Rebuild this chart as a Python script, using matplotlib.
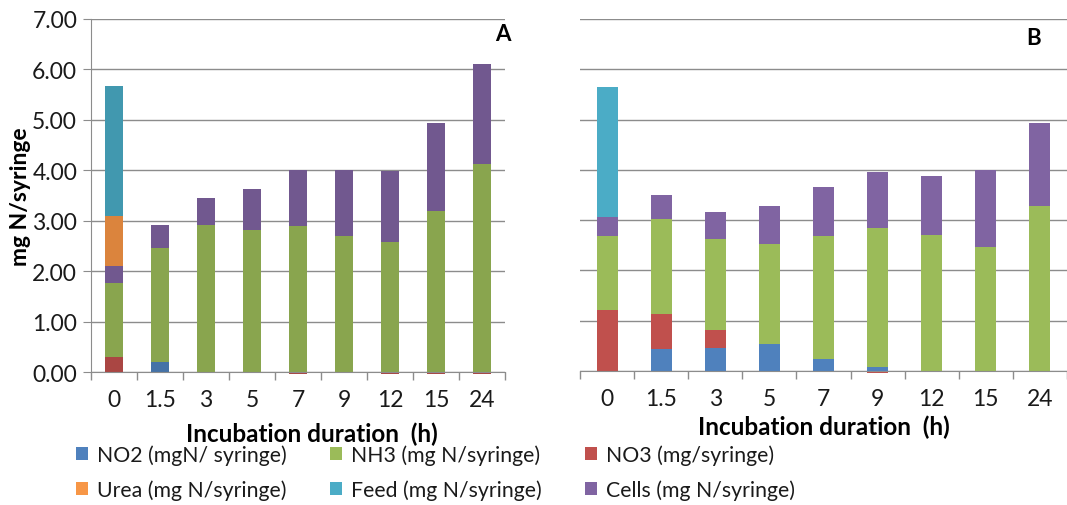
import numpy as np
import matplotlib
matplotlib.use("Agg")
import matplotlib.pyplot as plt
from matplotlib.patches import Patch

plt.rcParams['font.family'] = ['Lato', 'DejaVu Sans']

categories = ["0", "1.5", "3", "5", "7", "9", "12", "15", "24"]

# Panel A
a_no2   = [0.00, 0.19, 0.00, 0.00, 0.00, 0.00, 0.00, 0.00, 0.00]
a_no3   = [0.30, 0.00, 0.00, 0.00, -0.03, 0.00, -0.03, -0.03, -0.03]
a_nh3   = [1.46, 2.27, 2.91, 2.81, 2.89, 2.69, 2.58, 3.19, 4.12]
a_cells = [0.34, 0.45, 0.55, 0.81, 1.11, 1.31, 1.41, 1.75, 1.98]
a_urea  = [1.00, 0, 0, 0, 0, 0, 0, 0, 0]
a_feed  = [2.57, 0, 0, 0, 0, 0, 0, 0, 0]

# Panel B
b_no2   = [0.00, 0.44, 0.45, 0.54, 0.23, 0.07, 0.00, 0.00, 0.00]
b_no3   = [1.22, 0.69, 0.37, 0.00, 0.00, -0.03, -0.02, -0.02, -0.02]
b_nh3   = [1.46, 1.89, 1.80, 1.99, 2.45, 2.77, 2.71, 2.46, 3.29]
b_cells = [0.39, 0.48, 0.54, 0.76, 0.97, 1.11, 1.17, 1.54, 1.65]
b_urea  = [0, 0, 0, 0, 0, 0, 0, 0, 0]
b_feed  = [2.57, 0, 0, 0, 0, 0, 0, 0, 0]

labels = {
    "no2": "NO2 (mgN/ syringe)",
    "nh3": "NH3 (mg N/syringe)",
    "no3": "NO3 (mg/syringe)",
    "urea": "Urea (mg N/syringe)",
    "feed": "Feed (mg N/syringe)",
    "cells": "Cells (mg N/syringe)",
}
colors_a = {"no2": "#4572A7", "no3": "#AA4643", "nh3": "#89A54E",
            "cells": "#71588F", "urea": "#DB843D", "feed": "#4198AF"}
colors_b = {"no2": "#4F81BD", "no3": "#C0504D", "nh3": "#9BBB59",
            "cells": "#8064A2", "urea": "#F79646", "feed": "#4BACC6"}

order = ["no2", "no3", "nh3", "cells", "urea", "feed"]

fig = plt.figure(figsize=(10.67, 5.06), dpi=100)
axA = fig.add_axes([0.0853, 0.2628, 0.388, 0.6977])
axB = fig.add_axes([0.5436, 0.2648, 0.4564, 0.6957])

grid_c = "#8C8C8C"
txt_c = "#1a1a1a"

def draw(ax, series, cols, width, show_y):
    x = np.arange(len(categories))
    pos = np.zeros(len(categories))
    neg = np.zeros(len(categories))
    for key in order:
        v = np.array(series[key], dtype=float)
        bottoms = np.where(v >= 0, pos, neg)
        ax.bar(x, v, width, bottom=bottoms, color=cols[key], zorder=3,
               linewidth=0, clip_on=False)
        pos = pos + np.where(v > 0, v, 0)
        neg = neg + np.where(v < 0, v, 0)
    ax.set_ylim(0, 7)
    ax.set_xlim(-0.5, len(categories) - 0.5)
    ax.set_yticks(np.arange(0, 7.01, 1))
    ax.yaxis.grid(True, color=grid_c, linewidth=1.0, zorder=0)
    ax.set_axisbelow(True)
    ax.set_xticks(np.arange(-0.5, len(categories)), labels=[""] * (len(categories) + 1))
    ax.set_xticks(x, labels=categories, minor=True)
    ax.tick_params(axis='x', which='major', length=6, color=grid_c, width=1)
    ax.tick_params(axis='x', which='minor', length=0, labelsize=16.5, pad=12,
                   labelcolor=txt_c)
    for s in ["top", "right"]:
        ax.spines[s].set_visible(False)
    ax.spines["bottom"].set_color(grid_c)
    ax.spines["bottom"].set_zorder(4)
    if show_y:
        ax.spines["left"].set_color(grid_c)
        ax.set_yticklabels([f"{v:.2f}" for v in np.arange(0, 7.01, 1)])
        ax.tick_params(axis='y', length=6, color=grid_c, labelsize=16.5, pad=4,
                       labelcolor=txt_c)
        ax.set_ylabel("mg N/syringe", fontsize=16.5, fontweight='bold', labelpad=1)
    else:
        ax.spines["left"].set_visible(False)
        ax.tick_params(axis='y', length=0, labelleft=False)

sa = {"no2": a_no2, "no3": a_no3, "nh3": a_nh3, "cells": a_cells, "urea": a_urea, "feed": a_feed}
sb = {"no2": b_no2, "no3": b_no3, "nh3": b_nh3, "cells": b_cells, "urea": b_urea, "feed": b_feed}
draw(axA, sa, colors_a, 0.40, True)
draw(axB, sb, colors_b, 0.39, False)

axA.set_xlabel("Incubation duration  (h)", fontsize=17.5, fontweight='bold')
axA.xaxis.set_label_coords(0.534, -0.140)
axB.set_xlabel("Incubation duration  (h)", fontsize=17.5, fontweight='bold', labelpad=4)

axA.text(1.014, 0.988, "A", transform=axA.transAxes, fontsize=16, fontweight='bold',
         ha='right', va='top')
axB.text(0.947, 0.978, "B", transform=axB.transAxes, fontsize=16, fontweight='bold',
         ha='right', va='top')

columns = [["no2", "urea"], ["nh3", "feed"], ["no3", "cells"]]
col_x = [76, 330, 585]
for keys, xp in zip(columns, col_x):
    handles = [Patch(facecolor=colors_b[k], edgecolor='none') for k in keys]
    fig.legend(handles, [labels[k] for k in keys], ncol=1, loc='upper left',
               bbox_to_anchor=(xp / 1067, 0.12), frameon=False, fontsize=15.3,
               handlelength=0.55, handleheight=0.55, handletextpad=0.45,
               labelspacing=0.68, borderpad=0, borderaxespad=0,
               labelcolor=txt_c)

fig.savefig("out.png", dpi=100)
